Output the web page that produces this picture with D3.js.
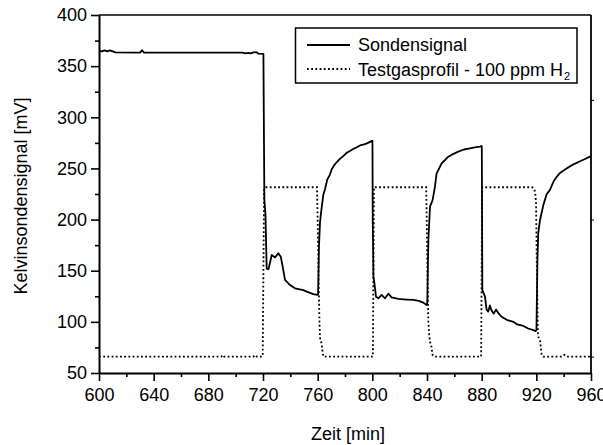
<!DOCTYPE html>
<html>
<head>
<meta charset="utf-8">
<script src="https://cdn.jsdelivr.net/npm/d3@7/dist/d3.min.js"></script>
<style>
  html, body { margin: 0; padding: 0; background: #fff; }
  svg { display: block; font-family: "Liberation Sans", Arial, sans-serif; }
</style>
</head>
<body>
<svg id="chart" width="603" height="445"></svg>
<script>
// Kelvin probe signal (mV) over time (min)
const signalTime = [
  600, 602, 604, 606, 608, 610, 612, 630, 631.5, 633, 700, 705, 707, 709, 711, 713, 715, 716.5, 720.3,
  720.6, 721, 721.8, 722.7, 724, 726.4, 728.8, 731.2, 733, 734.4, 736.1, 739.8, 743.4, 749.5, 752, 756.8, 759.7,
  760.3, 761, 761.7, 762.5, 764.1, 765.4, 767, 769, 770.2, 772, 773.9, 776, 778.7, 781, 783.6, 786, 789, 791, 794, 796, 798.3, 799.8,
  800.1, 800.3, 800.8, 801.5, 802.7, 804.4, 806.8, 809.3, 811.7, 814.1, 819, 825, 830, 834, 837.3, 839.7,
  840.2, 840.6, 841, 842.2, 844.1, 845.8, 847, 850.7, 853, 855.6, 859, 862.9, 867, 871.5, 875, 878.8, 879.8,
  880.1, 880.5, 882.4, 883.6, 884.8, 886, 887.3, 888.8, 890.5, 892.5, 894.6, 898.3, 903.2, 906, 910.5, 914, 917.8, 919.5,
  920.1, 920.8, 921.4, 922.7, 925.1, 927.6, 930, 932.5, 935, 937.3, 941, 944.6, 948, 952, 956, 960
];
const signalValue = [
  365, 364.5, 365.5, 364.5, 365.5, 364.5, 363.5, 363.3, 365.5, 363.3, 363.2, 363.2, 362.4, 363, 362.4, 363.4, 363.8, 362.3, 362,
  300, 219, 205, 152, 151.5, 165.4, 163, 167, 163.7, 154, 141, 136, 132.8, 131, 129.5, 127.2, 126.3,
  126.5, 175, 197, 207, 224, 230, 239, 244, 249, 253, 256, 259, 262, 265, 267, 269, 271, 272.5, 273.5, 274.5, 276, 277,
  277, 200, 144, 138, 124.6, 123, 126.3, 123, 127.5, 124, 122.4, 121.8, 121.4, 120.5, 118.8, 116.5,
  118, 150, 180, 212.6, 219, 232, 245, 255, 258, 261.5, 264, 266.4, 268.5, 269.7, 270.5, 271.3, 272,
  271.5, 131, 125, 112, 110, 116, 111, 108, 112, 108, 105, 102, 100, 97.5, 96, 93.5, 92, 91,
  92, 160, 186.6, 199.6, 214, 225, 229, 237, 242, 245.5, 249, 252, 254.5, 257, 259.5, 262
];

// Test gas profile (100 ppm H2), drawn on the same mV scale
const gasTime = [
  600, 689.5, 690.5, 691.5, 713, 714.2, 715.5, 719.3, 719.8, 720.3, 720.8, 722,
  759.5, 760, 760.6, 761.3, 761.8, 762.9, 763.6, 764.2,
  800.4, 800.8, 801.2,
  839.4, 839.8, 840.3, 841, 841.7, 842.3, 843, 844.1, 845.8,
  879.6, 880, 880.4,
  917, 918.5, 919.2, 919.8, 920.4, 921.1, 921.4, 922.7, 923.9, 925.1,
  939, 940.5, 942, 960
];
const gasValue = [
  66, 66, 67.6, 66, 66, 67.6, 66, 66, 67, 150, 230, 231.6,
  231.6, 200, 150, 100, 83, 79, 70, 66,
  66, 150, 231.6,
  231.6, 200, 150, 100, 86, 80, 78, 67.6, 66,
  66, 150, 231.6,
  231.6, 230, 226, 216, 150, 90, 85.5, 82.3, 67.6, 66,
  66, 67.6, 66, 66
];

const xTicks = [600, 640, 680, 720, 760, 800, 840, 880, 920, 960];
const xMinorTicks = [620, 660, 700, 740, 780, 820, 860, 900, 940];
const yTicks = [50, 100, 150, 200, 250, 300, 350, 400];
const yMinorTicks = [75, 125, 175, 225, 275, 325, 375];
const rightTicks = [66, 200, 317];

const xTitle = "Zeit [min]";
const yTitle = "Kelvinsondensignal [mV]";
const legendLabels = ["Sondensignal", "Testgasprofil - 100 ppm H"];

const margin = { left: 99, top: 15, right: 12, bottom: 72 };
const W = 603, H = 445;
const iw = W - margin.left - margin.right;
const ih = H - margin.top - margin.bottom;

const svg = d3.select("#chart");
const g = svg.append("g").attr("transform", `translate(${margin.left},${margin.top})`);

const x = d3.scaleLinear().domain([600, 960]).range([0, iw]);
const y = d3.scaleLinear().domain([50, 400]).range([ih, 0]);

const dotted = "1.8,2.4";

// data lines
const signal = signalTime.map((t, i) => [t, signalValue[i]]);
const gas = gasTime.map((t, i) => [t, gasValue[i]]);
const line = d3.line().x(d => x(d[0])).y(d => y(d[1]));

g.append("path").datum(gas)
  .attr("d", line).attr("fill", "none").attr("stroke", "#000")
  .attr("stroke-width", 1.8).attr("stroke-dasharray", dotted);

g.append("path").datum(signal)
  .attr("d", line).attr("fill", "none").attr("stroke", "#000")
  .attr("stroke-width", 1.8).attr("stroke-linejoin", "round");

// frame: top and right
g.append("line").attr("x1", 0).attr("x2", iw).attr("y1", 0).attr("y2", 0)
  .attr("stroke", "#000").attr("stroke-width", 1.6);
g.append("line").attr("x1", iw).attr("x2", iw).attr("y1", 0).attr("y2", ih)
  .attr("stroke", "#000").attr("stroke-width", 1.8);

// right-side small ticks
g.append("g").attr("transform", `translate(${iw},0)`)
  .call(d3.axisRight(y).tickValues(rightTicks).tickSize(3).tickFormat(""))
  .call(a => a.select(".domain").remove())
  .selectAll("line").attr("stroke-width", 1);

// x axis
const xAxis = g.append("g").attr("transform", `translate(0,${ih})`);
xAxis.call(d3.axisBottom(x).tickValues(xTicks).tickSize(8).tickPadding(7).tickSizeOuter(0).tickFormat(d3.format("d")));
xAxis.append("g").call(d3.axisBottom(x).tickValues(xMinorTicks).tickSize(4).tickFormat(""))
  .select(".domain").remove();
xAxis.selectAll("line").attr("stroke-width", 1.6);
xAxis.select(".domain").attr("stroke-width", 2);
xAxis.selectAll("text").attr("font-size", 18).attr("fill", "#000")
  .attr("font-family", "'Liberation Sans', Arial, sans-serif");

// y axis
const yAxis = g.append("g");
yAxis.call(d3.axisLeft(y).tickValues(yTicks).tickSize(8).tickPadding(4).tickSizeOuter(0));
yAxis.append("g").call(d3.axisLeft(y).tickValues(yMinorTicks).tickSize(4).tickFormat(""))
  .select(".domain").remove();
yAxis.selectAll("line").attr("stroke-width", 1.6);
yAxis.select(".domain").attr("stroke-width", 2);
yAxis.selectAll("text").attr("font-size", 18).attr("fill", "#000")
  .attr("font-family", "'Liberation Sans', Arial, sans-serif");

// axis titles
svg.append("text").attr("x", 348).attr("y", 439.5).attr("text-anchor", "middle")
  .attr("font-size", 18).attr("fill", "#000").text(xTitle);
svg.append("text").attr("transform", "translate(26.5,196) rotate(-90)")
  .attr("text-anchor", "middle").attr("font-size", 18).attr("fill", "#000").text(yTitle);

// legend
const lg = svg.append("g");
lg.append("rect").attr("x", 295.5).attr("y", 28).attr("width", 281.5).attr("height", 55)
  .attr("fill", "#fff").attr("stroke", "#000").attr("stroke-width", 1.5);
lg.append("line").attr("x1", 307).attr("x2", 350).attr("y1", 45).attr("y2", 45)
  .attr("stroke", "#000").attr("stroke-width", 1.8);
lg.append("line").attr("x1", 307).attr("x2", 350).attr("y1", 69).attr("y2", 69)
  .attr("stroke", "#000").attr("stroke-width", 1.8).attr("stroke-dasharray", dotted);
lg.append("text").attr("x", 358).attr("y", 51).attr("font-size", 18).attr("fill", "#000")
  .text(legendLabels[0]);
const t2 = lg.append("text").attr("x", 358).attr("y", 75.5).attr("font-size", 18).attr("fill", "#000");
t2.append("tspan").text(legendLabels[1]);
t2.append("tspan").attr("font-size", 11).attr("dy", 4).attr("dx", 1).text("2");
</script>
</body>
</html>
